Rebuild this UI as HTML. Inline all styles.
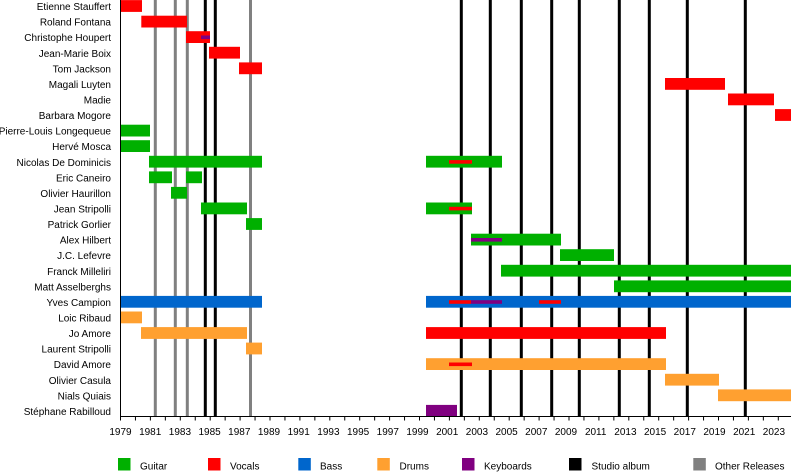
<!DOCTYPE html>
<html><head><meta charset="utf-8"><style>
html,body{margin:0;padding:0;background:#fff;}
svg{display:block;}
text{font-family:"Liberation Sans",Arial,sans-serif;font-size:10px;fill:#000;}
</style></head><body>
<svg width="800" height="476" viewBox="0 0 800 476" xmlns="http://www.w3.org/2000/svg">
<!-- release lines -->
<g fill="#808080">
<rect x="153.8" y="0" width="3" height="416"/>
<rect x="173.8" y="0" width="3" height="416"/>
<rect x="185.8" y="0" width="3" height="416"/>
<rect x="249" y="0" width="3" height="416"/>
</g>
<g fill="#000">
<rect x="203.8" y="0" width="3" height="416"/>
<rect x="213.8" y="0" width="3" height="416"/>
<rect x="459.8" y="0" width="3" height="416"/>
<rect x="488.8" y="0" width="3" height="416"/>
<rect x="519.8" y="0" width="3" height="416"/>
<rect x="550.2" y="0" width="3" height="416"/>
<rect x="577.8" y="0" width="3" height="416"/>
<rect x="617.8" y="0" width="3" height="416"/>
<rect x="647.8" y="0" width="3" height="416"/>
<rect x="685.8" y="0" width="3" height="416"/>
<rect x="743.8" y="0" width="3" height="416"/>
</g>
<!-- bars -->
<g>
<!-- row0 -->
<rect x="120.5" y="0.1" width="21.5" height="11.8" fill="#ff0000"/>
<!-- row1 -->
<rect x="141.3" y="15.7" width="45.7" height="11.8" fill="#ff0000"/>
<!-- row2 -->
<rect x="186" y="31.2" width="24" height="11.8" fill="#ff0000"/>
<rect x="201" y="35.5" width="9" height="3.6" fill="#800080"/>
<!-- row3 -->
<rect x="209" y="46.8" width="31" height="11.8" fill="#ff0000"/>
<!-- row4 -->
<rect x="239" y="62.4" width="23" height="11.8" fill="#ff0000"/>
<!-- row5 -->
<rect x="665" y="78" width="60" height="11.8" fill="#ff0000"/>
<!-- row6 -->
<rect x="728" y="93.5" width="46" height="11.8" fill="#ff0000"/>
<!-- row7 -->
<rect x="775" y="109.1" width="16" height="11.8" fill="#ff0000"/>
<!-- row8 -->
<rect x="120.5" y="124.7" width="29.5" height="11.8" fill="#00b000"/>
<!-- row9 -->
<rect x="120.5" y="140.2" width="29.5" height="11.8" fill="#00b000"/>
<!-- row10 -->
<rect x="149" y="155.8" width="113" height="11.8" fill="#00b000"/>
<rect x="426" y="155.8" width="76" height="11.8" fill="#00b000"/>
<rect x="449" y="160.1" width="23" height="3.6" fill="#ff0000"/>
<!-- row11 -->
<rect x="149" y="171.4" width="23" height="11.8" fill="#00b000"/>
<rect x="186" y="171.4" width="16" height="11.8" fill="#00b000"/>
<!-- row12 -->
<rect x="171" y="186.9" width="16" height="11.8" fill="#00b000"/>
<!-- row13 -->
<rect x="201" y="202.5" width="46" height="11.8" fill="#00b000"/>
<rect x="426" y="202.5" width="46" height="11.8" fill="#00b000"/>
<rect x="449" y="206.8" width="23" height="3.6" fill="#ff0000"/>
<!-- row14 -->
<rect x="246" y="218.1" width="16" height="11.8" fill="#00b000"/>
<!-- row15 -->
<rect x="471" y="233.7" width="90" height="11.8" fill="#00b000"/>
<rect x="471" y="238" width="31" height="3.6" fill="#800080"/>
<!-- row16 -->
<rect x="560" y="249.2" width="54" height="11.8" fill="#00b000"/>
<!-- row17 -->
<rect x="501" y="264.8" width="290" height="11.8" fill="#00b000"/>
<!-- row18 -->
<rect x="614" y="280.4" width="177" height="11.8" fill="#00b000"/>
<!-- row19 -->
<rect x="120.5" y="295.9" width="141.5" height="11.8" fill="#0066cc"/>
<rect x="426" y="295.9" width="365" height="11.8" fill="#0066cc"/>
<rect x="449" y="300.2" width="22" height="3.6" fill="#ff0000"/>
<rect x="471" y="300.2" width="31" height="3.6" fill="#800080"/>
<rect x="539" y="300.2" width="22" height="3.6" fill="#ff0000"/>
<!-- row20 -->
<rect x="120.5" y="311.5" width="21.5" height="11.8" fill="#ffa030"/>
<!-- row21 -->
<rect x="141" y="327.1" width="106" height="11.8" fill="#ffa030"/>
<rect x="426" y="327.1" width="240" height="11.8" fill="#ff0000"/>
<!-- row22 -->
<rect x="246" y="342.6" width="16" height="11.8" fill="#ffa030"/>
<!-- row23 -->
<rect x="426" y="358.2" width="240" height="11.8" fill="#ffa030"/>
<rect x="449" y="362.5" width="23" height="3.6" fill="#ff0000"/>
<!-- row24 -->
<rect x="665" y="373.8" width="54" height="11.8" fill="#ffa030"/>
<!-- row25 -->
<rect x="718" y="389.4" width="73" height="11.8" fill="#ffa030"/>
<!-- row26 -->
<rect x="426" y="404.9" width="31" height="11.1" fill="#800080"/>
</g>
<!-- axes -->
<line x1="120.5" y1="0" x2="120.5" y2="417" stroke="#000" stroke-width="1"/>
<line x1="120" y1="416.5" x2="791" y2="416.5" stroke="#000" stroke-width="1"/>
<g stroke="#000" stroke-width="1">
<path d="M120.5 416.5v4M135.45 416.5v4M150.4 416.5v4M165.35 416.5v4M180.3 416.5v4M195.25 416.5v4M210.2 416.5v4M225.15 416.5v4M240.1 416.5v4M255.05 416.5v4M270 416.5v4M284.95 416.5v4M299.9 416.5v4M314.85 416.5v4M329.8 416.5v4M344.75 416.5v4M359.7 416.5v4M374.65 416.5v4M389.6 416.5v4M404.55 416.5v4M419.5 416.5v4M434.45 416.5v4M449.4 416.5v4M464.35 416.5v4M479.3 416.5v4M494.25 416.5v4M509.2 416.5v4M524.15 416.5v4M539.1 416.5v4M554.05 416.5v4M569 416.5v4M583.95 416.5v4M598.9 416.5v4M613.85 416.5v4M628.8 416.5v4M643.75 416.5v4M658.7 416.5v4M673.65 416.5v4M688.6 416.5v4M703.55 416.5v4M718.5 416.5v4M733.45 416.5v4M748.4 416.5v4M763.35 416.5v4M778.3 416.5v4"/>
</g>
<!-- year labels -->
<g text-anchor="middle">
<text x="120.5" y="435">1979</text>
<text x="150.2" y="435">1981</text>
<text x="179.9" y="435">1983</text>
<text x="209.6" y="435">1985</text>
<text x="239.3" y="435">1987</text>
<text x="269" y="435">1989</text>
<text x="298.7" y="435">1991</text>
<text x="328.4" y="435">1993</text>
<text x="358.1" y="435">1995</text>
<text x="387.8" y="435">1997</text>
<text x="417.5" y="435">1999</text>
<text x="447.2" y="435">2001</text>
<text x="476.9" y="435">2003</text>
<text x="506.6" y="435">2005</text>
<text x="536.3" y="435">2007</text>
<text x="566" y="435">2009</text>
<text x="595.7" y="435">2011</text>
<text x="625.4" y="435">2013</text>
<text x="655.1" y="435">2015</text>
<text x="684.8" y="435">2017</text>
<text x="714.5" y="435">2019</text>
<text x="744.2" y="435">2021</text>
<text x="773.9" y="435">2023</text>
</g>
<!-- names -->
<g text-anchor="end">
<text x="111" y="10.1">Etienne Stauffert</text>
<text x="111" y="25.7">Roland Fontana</text>
<text x="111" y="41.2">Christophe Houpert</text>
<text x="111" y="56.8">Jean-Marie Boix</text>
<text x="111" y="72.4">Tom Jackson</text>
<text x="111" y="88">Magali Luyten</text>
<text x="111" y="103.5">Madie</text>
<text x="111" y="119.1">Barbara Mogore</text>
<text x="111" y="134.7">Pierre-Louis Longequeue</text>
<text x="111" y="150.2">Hervé Mosca</text>
<text x="111" y="165.8">Nicolas De Dominicis</text>
<text x="111" y="181.4">Eric Caneiro</text>
<text x="111" y="196.9">Olivier Haurillon</text>
<text x="111" y="212.5">Jean Stripolli</text>
<text x="111" y="228.1">Patrick Gorlier</text>
<text x="111" y="243.7">Alex Hilbert</text>
<text x="111" y="259.2">J.C. Lefevre</text>
<text x="111" y="274.8">Franck Milleliri</text>
<text x="111" y="290.4">Matt Asselberghs</text>
<text x="111" y="305.9">Yves Campion</text>
<text x="111" y="321.5">Loic Ribaud</text>
<text x="111" y="337.1">Jo Amore</text>
<text x="111" y="352.6">Laurent Stripolli</text>
<text x="111" y="368.2">David Amore</text>
<text x="111" y="383.8">Olivier Casula</text>
<text x="111" y="399.4">Nials Quiais</text>
<text x="111" y="414.9">Stéphane Rabilloud</text>
</g>
<!-- legend -->
<rect x="118" y="458" width="12.5" height="12.5" fill="#00b000"/>
<text x="140" y="469.5">Guitar</text>
<rect x="208" y="458" width="12.5" height="12.5" fill="#ff0000"/>
<text x="230" y="469.5">Vocals</text>
<rect x="298.3" y="458" width="12.5" height="12.5" fill="#0066cc"/>
<text x="320" y="469.5">Bass</text>
<rect x="377.3" y="458" width="12.5" height="12.5" fill="#ffa030"/>
<text x="399.5" y="469.5">Drums</text>
<rect x="462" y="458" width="12.5" height="12.5" fill="#800080"/>
<text x="484" y="469.5">Keyboards</text>
<rect x="569" y="458" width="12.5" height="12.5" fill="#000"/>
<text x="591.5" y="469.5">Studio album</text>
<rect x="693.3" y="458" width="12.5" height="12.5" fill="#808080"/>
<text x="715" y="469.5">Other Releases</text>
</svg>
</body></html>
